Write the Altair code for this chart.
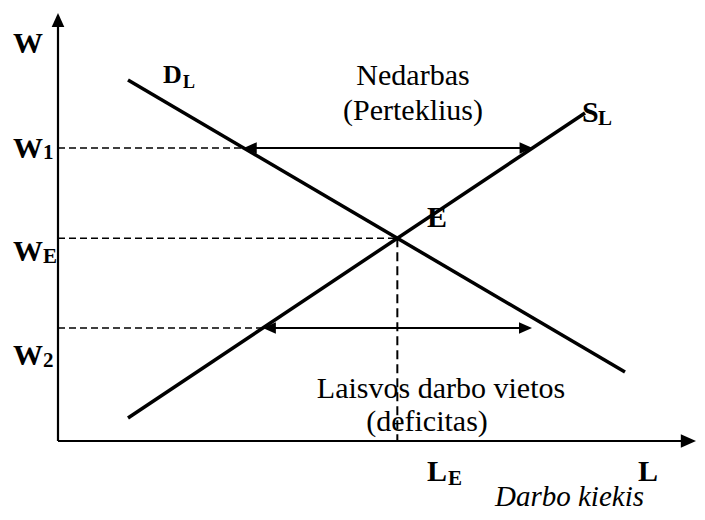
import altair as alt
import pandas as pd

# ---- diagram data (quantity L to the right, wage W upward; origin = axes corner) ----
demand_L = [70, 567]
demand_W = [361, 69]
supply_L = [70, 527]
supply_W = [23, 328]
W1_level = 293
W2_level = 113
shortage_end_L = 474
L_axis_max = 638
W_axis_max = 428

# labels: text, L, W (baseline position)
bold_big_text = ["W", "W", "W", "W", "E", "S", "L", "L"]
bold_big_L = [-45, -45, -45, -45, 369, 524, 369, 580]
bold_big_W = [388, 283, 180, 76, 214, 319, -40, -40]

bold_d_text = ["D"]
bold_d_L = [105]
bold_d_W = [358]

sub_text = ["1", "E", "2", "L", "E"]
sub_L = [-15, -15, -15, 540, 390]
sub_W = [282, 178, 74, 316, -44]

sub_small_text = ["L"]
sub_small_L = [125]
sub_small_W = [353]

plain_text = ["Nedarbas", "(Perteklius)", "Laisvos darbo vietos", "(deficitas)"]
plain_L = [355, 355, 383, 369]
plain_W = [356, 321, 43, 10]

italic_text = ["Darbo kiekis"]
italic_L = [437]
italic_W = [-65]

W, H = 689, 504
x_dom = [-50, W - 50]
y_dom = [433 - H, 433]
FONT = "Liberation Serif"


def L_on(Ls, Ws, w):
    return Ls[0] + (w - Ws[0]) * (Ls[1] - Ls[0]) / (Ws[1] - Ws[0])


sd = (demand_W[1] - demand_W[0]) / (demand_L[1] - demand_L[0])
ss = (supply_W[1] - supply_W[0]) / (supply_L[1] - supply_L[0])
LE = (supply_W[0] - ss * supply_L[0] - demand_W[0] + sd * demand_L[0]) / (sd - ss)
WE = demand_W[0] + sd * (LE - demand_L[0])

w1_left = L_on(demand_L, demand_W, W1_level)
w1_right = L_on(supply_L, supply_W, W1_level)
w2_left = L_on(supply_L, supply_W, W2_level)
w2_right = shortage_end_L

segs = pd.DataFrame([
    dict(x=0, y=0, x2=0, y2=W_axis_max - 8, kind="axis"),
    dict(x=0, y=0, x2=L_axis_max - 8, y2=0, kind="axis"),
    dict(x=demand_L[0], y=demand_W[0], x2=demand_L[1], y2=demand_W[1], kind="curve"),
    dict(x=supply_L[0], y=supply_W[0], x2=supply_L[1], y2=supply_W[1], kind="curve"),
    dict(x=w1_left + 6, y=W1_level, x2=w1_right - 6, y2=W1_level, kind="arrow"),
    dict(x=w2_left + 6, y=W2_level, x2=w2_right - 6, y2=W2_level, kind="arrow"),
    dict(x=0, y=W1_level, x2=w1_left, y2=W1_level, kind="dash"),
    dict(x=0, y=WE, x2=LE, y2=WE, kind="dash"),
    dict(x=0, y=W2_level, x2=w2_left, y2=W2_level, kind="dash"),
    dict(x=LE, y=WE, x2=LE, y2=0, kind="vdash"),
])

RIGHT = "M0,0L-2,-0.9L-2,0.9Z"
LEFT = "M0,0L2,-0.9L2,0.9Z"
UP = "M0,0L-0.9,2L0.9,2Z"
heads = pd.DataFrame([
    dict(x=0, y=W_axis_max, shape=UP, size=196),
    dict(x=L_axis_max, y=0, shape=RIGHT, size=230),
    dict(x=w1_left, y=W1_level, shape=LEFT, size=169),
    dict(x=w1_right, y=W1_level, shape=RIGHT, size=169),
    dict(x=w2_left, y=W2_level, shape=LEFT, size=169),
    dict(x=w2_right, y=W2_level, shape=RIGHT, size=169),
])

xs = alt.Scale(domain=x_dom, nice=False, zero=False)
ys = alt.Scale(domain=y_dom, nice=False, zero=False)
X = alt.X("x:Q", scale=xs, axis=None)
Y = alt.Y("y:Q", scale=ys, axis=None)


def seg_layer(kind, **mk):
    return (
        alt.Chart(segs)
        .transform_filter(alt.datum.kind == kind)
        .mark_rule(color="black", **mk)
        .encode(x=X, y=Y, x2="x2:Q", y2="y2:Q")
    )


def text_layer(texts, Ls, Ws, **mk):
    df = pd.DataFrame({"t": texts, "x": Ls, "y": Ws})
    return (
        alt.Chart(df)
        .mark_text(font=FONT, color="black", baseline="alphabetic", **mk)
        .encode(x=X, y=Y, text="t:N")
    )


texts = [
    text_layer(plain_text, plain_L, plain_W, align="center", fontSize=30),
    text_layer(italic_text, italic_L, italic_W, align="left", fontSize=29, fontStyle="italic"),
    text_layer(bold_big_text, bold_big_L, bold_big_W, align="left", fontSize=30, fontWeight="bold"),
    text_layer(bold_d_text, bold_d_L, bold_d_W, align="left", fontSize=26, fontWeight="bold"),
    text_layer(sub_text, sub_L, sub_W, align="left", fontSize=21, fontWeight="bold"),
    text_layer(sub_small_text, sub_small_L, sub_small_W, align="left", fontSize=18, fontWeight="bold"),
]

lines = [
    seg_layer("dash", strokeWidth=1.3, strokeDash=[7, 4]),
    seg_layer("vdash", strokeWidth=2, strokeDash=[9, 5]),
    seg_layer("axis", strokeWidth=2.2),
    seg_layer("curve", strokeWidth=3.5),
    seg_layer("arrow", strokeWidth=2),
]

head_layer = (
    alt.Chart(heads)
    .mark_point(filled=True, color="black", opacity=1, strokeWidth=0)
    .encode(x=X, y=Y,
            shape=alt.Shape("shape:N", scale=None, legend=None),
            size=alt.Size("size:Q", scale=None, legend=None))
)

chart = (
    alt.layer(*texts, *lines, head_layer)
    .properties(width=W, height=H, padding=0, autosize=alt.AutoSizeParams(type="none"),
                background="white")
    .configure_view(stroke="transparent")
)

chart.save("out.html", embed_options={"renderer": "svg", "actions": False})
